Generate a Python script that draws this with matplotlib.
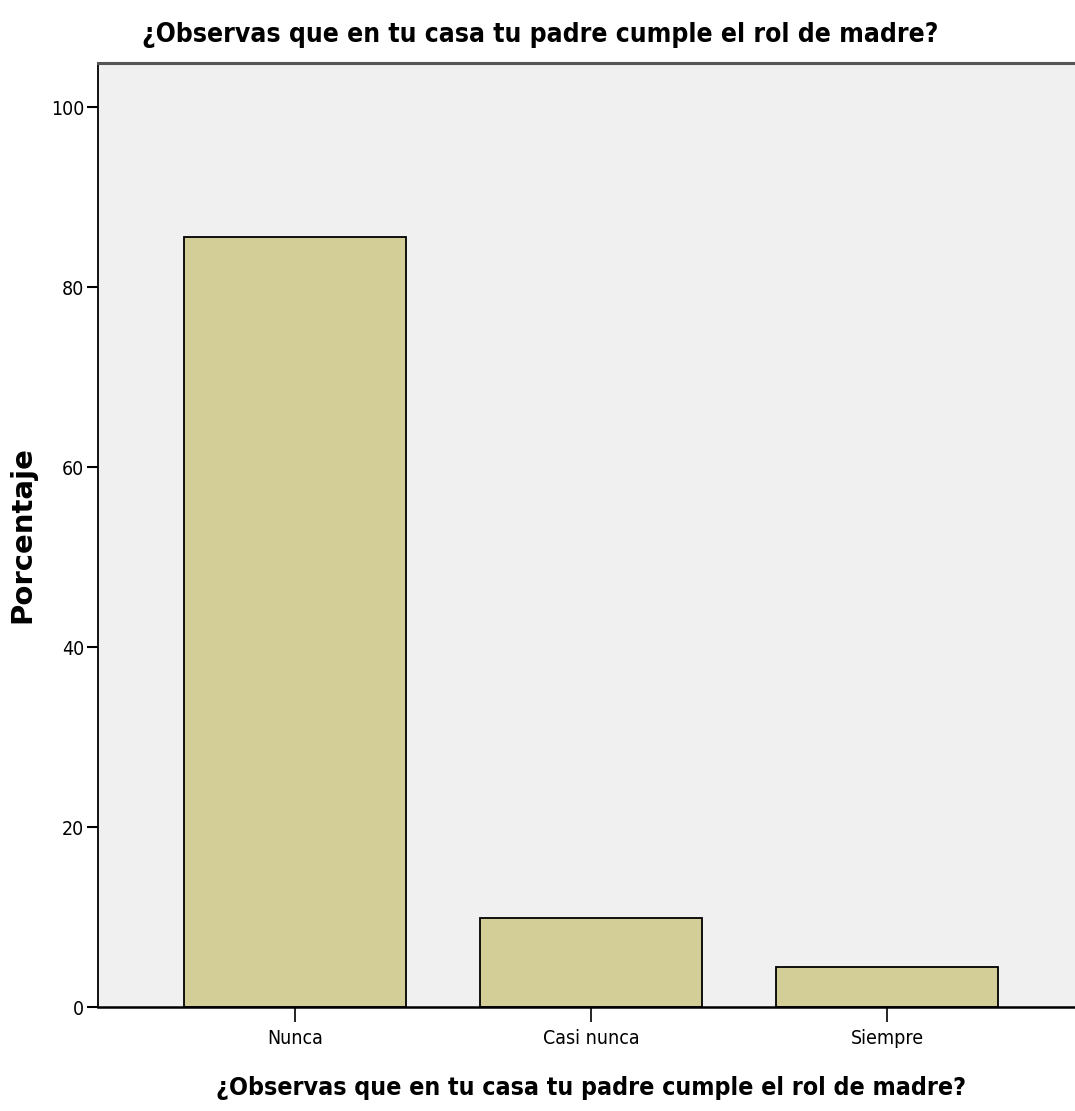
import matplotlib.pyplot as plt

# data
categories = ['Nunca', 'Casi nunca', 'Siempre']
percent = [85.6, 9.9, 4.5]
y_ticks = [0, 20, 40, 60, 80, 100]
question = '¿Observas que en tu casa tu padre cumple el rol de madre?'

bar_color = '#d3ce97'
bg_color = '#f0f0f0'
cond = dict(family='DejaVu Sans', fontstretch='condensed')

fig = plt.figure(figsize=(10.75, 11.11), dpi=100)
# axes runs a little past the right edge of the picture, like the original export
ax = fig.add_axes([0.0912, 0.0936, 0.917, 0.8497])
ax.set_facecolor(bg_color)

x = list(range(len(categories)))
ax.bar(x, percent, width=0.75, color=bar_color, edgecolor='black', linewidth=1.3, zorder=2)

ax.set_xlim(-0.665, 2.665)
ax.set_ylim(0, 104.9)
ax.set_yticks(y_ticks)
ax.set_xticks(x)
ax.set_xticklabels(categories, fontsize=14, **cond)
ax.set_yticklabels([str(v) for v in y_ticks], fontsize=14, **cond)
ax.tick_params(axis='y', direction='out', length=8, width=1.5, pad=2)
ax.tick_params(axis='x', direction='out', length=11, width=1.2, pad=5)

ax.spines['right'].set_visible(False)
ax.spines['top'].set_color('#555555')
ax.spines['top'].set_linewidth(2.2)
ax.spines['left'].set_linewidth(1.3)
ax.spines['bottom'].set_linewidth(1.8)

fig.text(22 / 1075, 1 - 535 / 1111, 'Porcentaje', rotation=90, ha='center', va='center',
         family='DejaVu Sans', fontweight='bold', fontsize=21)

fig.text(540 / 1075, 1 - 35 / 1111, question, ha='center', va='center',
         fontweight='bold', fontsize=19, **cond)
ax.set_xlabel(question, fontweight='bold', fontsize=17.9, labelpad=20, **cond)

fig.savefig('out.png', dpi=100)
